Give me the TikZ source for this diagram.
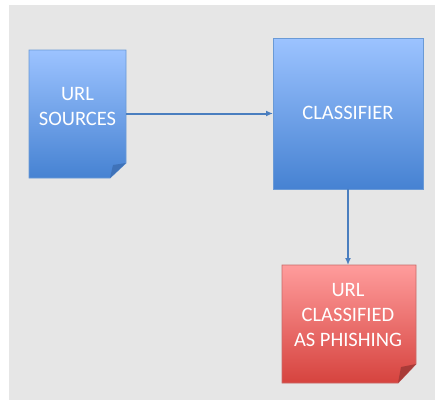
\documentclass[tikz,border=0pt]{standalone}
\usepackage{fontspec}
\setmainfont{Carlito}
\usetikzlibrary{arrows.meta}
\definecolor{bgc}{HTML}{E6E6E6}
\definecolor{bluetop}{HTML}{9CC3FF}
\definecolor{bluebot}{HTML}{4682D2}
\definecolor{blueedge}{HTML}{6A9AD6}
\definecolor{bluefold}{HTML}{3F72B8}
\definecolor{redtop}{HTML}{FF9C9C}
\definecolor{redbot}{HTML}{D6433E}
\definecolor{rededge}{HTML}{C96A68}
\definecolor{redfold}{HTML}{A83B38}
\definecolor{arrowc}{HTML}{4A7EBF}
\tikzset{
  boxnode/.style={minimum width=#1, inner sep=0pt, outer sep=0pt},
  lbl/.style={text=white, align=center, font=\fontsize{20.5}{25}\selectfont, inner sep=0pt},
  conn/.style={draw=arrowc, line width=2pt, -{Latex[length=7pt,width=6pt]}}
}
\begin{document}
\begin{tikzpicture}[x=1pt,y=-1pt]
\useasboundingbox (0,0) rectangle (435,400);
\fill[white] (0,0) rectangle (435,400);
\fill[bgc] (9,5) rectangle (435,400);

% URL SOURCES (dog-eared)
\node[boxnode=97pt, minimum height=128pt] (src) at (77.5,114) {};
\shade[top color=bluetop, bottom color=bluebot, draw=blueedge, line width=0.8pt]
  (src.north west) -- (src.north east) -- ([yshift=15pt]src.south east)
  -- ([xshift=-16pt]src.south east) -- (src.south west) -- cycle;
\fill[bluefold] ([yshift=15pt]src.south east) -- ([xshift=-13pt,yshift=13pt]src.south east)
  -- ([xshift=-16pt]src.south east) -- cycle;
\node[lbl] (srct) at (77.5,106) {URL\\SOURCES};

% CLASSIFIER
\node[boxnode=150pt, minimum height=151pt] (cls) at (348,113.5) {};
\shade[top color=bluetop, bottom color=bluebot, draw=blueedge, line width=0.8pt]
  (cls.north west) rectangle (cls.south east);
\node[lbl] (clst) at (348,113) {CLASSIFIER};

% URL CLASSIFIED AS PHISHING (dog-eared)
\node[boxnode=134pt, minimum height=118pt] (ph) at (349,324) {};
\shade[top color=redtop, bottom color=redbot, draw=rededge, line width=0.8pt]
  (ph.north west) -- (ph.north east) -- ([yshift=19pt]ph.south east)
  -- ([xshift=-18pt]ph.south east) -- (ph.south west) -- cycle;
\fill[redfold] ([yshift=19pt]ph.south east) -- ([xshift=-15pt,yshift=16pt]ph.south east)
  -- ([xshift=-18pt]ph.south east) -- cycle;
\node[lbl] (pht) at (348,314.5) {URL\\CLASSIFIED\\AS PHISHING};

% connectors
\draw[conn] (src.east |- cls.west) -- (cls.west);
\draw[conn] (cls.south) -- (cls.south |- ph.north);
\end{tikzpicture}
\end{document}
